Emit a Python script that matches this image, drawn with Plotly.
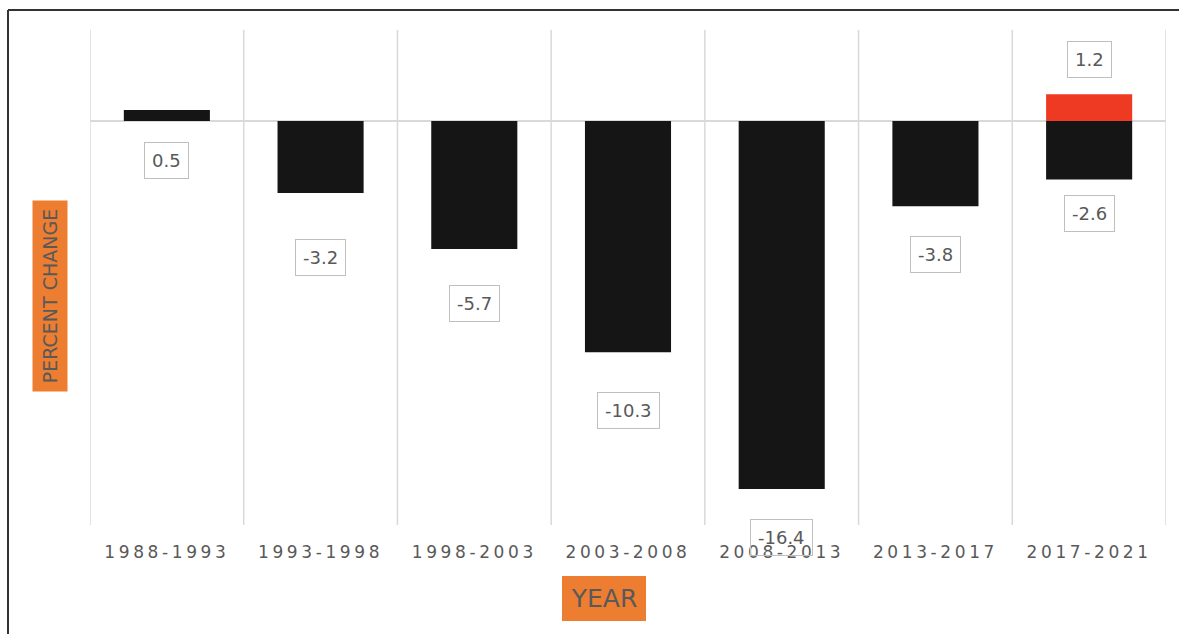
import plotly.graph_objects as go

# Periods and percent change per period
periods = ["1988-1993", "1993-1998", "1998-2003", "2003-2008",
           "2008-2013", "2013-2017", "2017-2021"]
change = [0.5, -3.2, -5.7, -10.3, -16.4, -3.8, -2.6]
# Positive change recorded in the latest period, stacked on top of zero
gain = [None, None, None, None, None, None, 1.2]

# Vertical pixel offsets for the value boxes (positive = downwards)
change_label_drop = [51, 65, 54, 58, 48, 48, 34]
gain_label_rise = 35

W, H = 1179, 634
ML, MR, MT, MB = 90, 13, 30, 109
PW, PH = W - ML - MR, H - MT - MB

GRID = "#d9d9d9"
TEXT = "#595959"
ORANGE = "#ED7D31"
FONT = "DejaVu Sans"


def px_x(p):
    return (p - ML) / PW


def px_y(p):
    return (H - MB - p) / PH


fig = go.Figure()
fig.add_trace(go.Bar(x=periods, y=change, marker_color="#151515",
                     marker_line_width=0, name="change"))
fig.add_trace(go.Bar(x=periods, y=gain, marker_color="#EE3A23",
                     marker_line_width=0, name="gain"))

shapes = []
# category separators
for i in range(len(periods) + 1):
    shapes.append(dict(type="line", xref="x", yref="paper",
                       x0=i - 0.5, x1=i - 0.5, y0=0, y1=1,
                       line=dict(color=GRID, width=1.5), layer="below"))
# outer frame (top and left edges)
shapes.append(dict(type="line", xref="paper", yref="paper",
                   x0=px_x(8), x1=px_x(W + 20), y0=px_y(10), y1=px_y(10),
                   line=dict(color="#333333", width=2)))
shapes.append(dict(type="line", xref="paper", yref="paper",
                   x0=px_x(8), x1=px_x(8), y0=px_y(10), y1=px_y(H + 20),
                   line=dict(color="#333333", width=2)))

annotations = []
box = dict(showarrow=False, font=dict(family=FONT, size=18, color=TEXT),
           bgcolor="rgba(255,255,255,0)", bordercolor="#bfbfbf",
           borderwidth=1, borderpad=7, xref="x", yref="y")
for p, v, d in zip(periods, change, change_label_drop):
    annotations.append(dict(x=p, y=v, yshift=-d, text=f"{v:g}", **box))
for p, v in zip(periods, gain):
    if v is not None:
        annotations.append(dict(x=p, y=v, yshift=gain_label_rise,
                                text=f"{v:g}", **box))

# axis titles drawn as filled labels
annotations.append(dict(text="PERCENT CHANGE", textangle=-90, showarrow=False,
                        xref="paper", yref="paper", x=px_x(49.5), y=px_y(296),
                        xanchor="center", yanchor="middle",
                        width=191, height=35, borderpad=0, borderwidth=0,
                        bgcolor=ORANGE,
                        font=dict(family=FONT, size=19, color=TEXT)))
annotations.append(dict(text="YEAR", showarrow=False,
                        xref="paper", yref="paper", x=px_x(604), y=px_y(598.5),
                        xanchor="center", yanchor="middle",
                        width=84, height=45, borderpad=0, borderwidth=0,
                        bgcolor=ORANGE,
                        font=dict(family=FONT, size=25, color=TEXT)))

fig.update_layout(
    width=W, height=H,
    margin=dict(l=ML, r=MR, t=MT, b=MB),
    paper_bgcolor="white", plot_bgcolor="white",
    barmode="relative", bargap=0.44, showlegend=False,
    shapes=shapes, annotations=annotations,
    xaxis=dict(showgrid=False, zeroline=False, showline=False,
               ticks="", ticklabelstandoff=15,
               tickfont=dict(family=FONT, size=17, color=TEXT),
               range=[-0.5, len(periods) - 0.5], fixedrange=True),
    yaxis=dict(range=[-18.0, 4.06], showgrid=False, showticklabels=False,
               ticks="", zeroline=True, zerolinecolor=GRID, zerolinewidth=2,
               fixedrange=True),
)

spacing_js = """
document.querySelectorAll('.xtick text').forEach(function(t){
  t.style.letterSpacing = '3.6px';
});
"""

fig.write_html("out.html", config={"displayModeBar": False},
               post_script=spacing_js)
